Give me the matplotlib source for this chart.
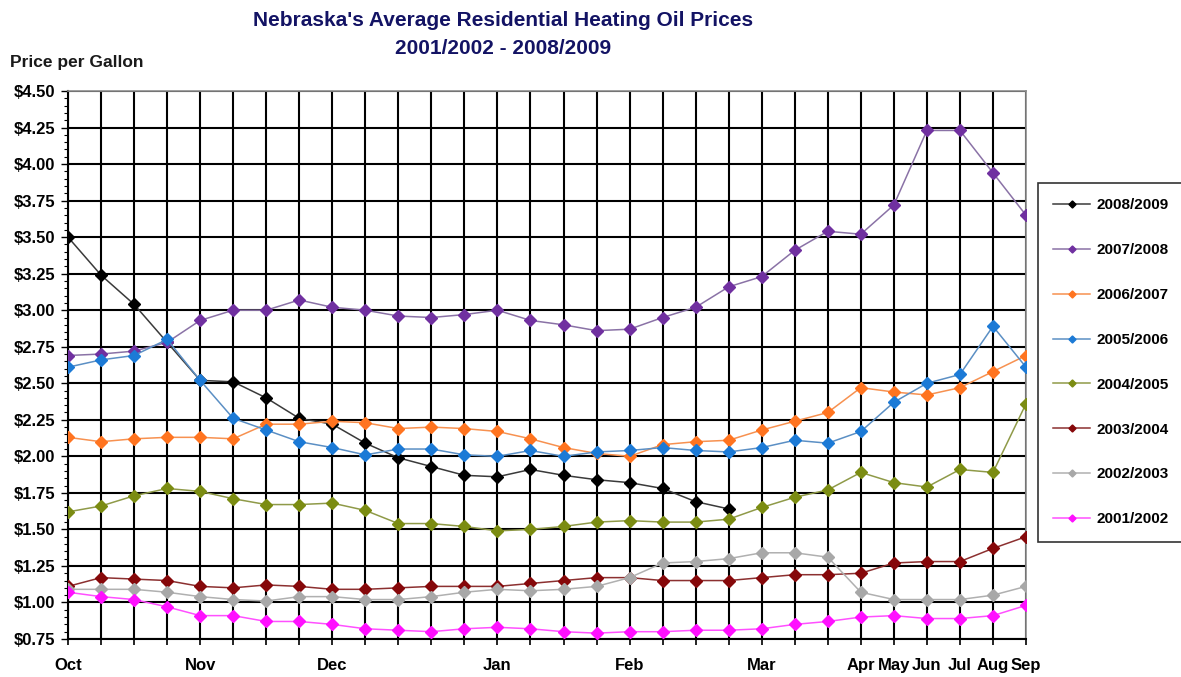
import numpy as np
import matplotlib
matplotlib.use("Agg")
import matplotlib.pyplot as plt
from matplotlib.ticker import MultipleLocator, FuncFormatter

plt.rcParams['font.family'] = ['Liberation Sans', 'DejaVu Sans']

# week / month slots along the heating season (30 report dates)
n_points = 30
month_pos = [0, 4, 8, 13, 17, 21, 24, 25, 26, 27, 28, 29]
month_labels = ["Oct", "Nov", "Dec", "Jan", "Feb", "Mar",
                "Apr", "May", "Jun", "Jul", "Aug", "Sep"]

p2008_09 = [3.50, 3.24, 3.04, 2.78, 2.52, 2.51, 2.40, 2.26, 2.22, 2.09, 1.99,
            1.93, 1.87, 1.86, 1.91, 1.87, 1.84, 1.82, 1.78, 1.69, 1.64]
p2007_08 = [2.69, 2.70, 2.72, 2.78, 2.93, 3.00, 3.00, 3.07, 3.02, 3.00, 2.96,
            2.95, 2.97, 3.00, 2.93, 2.90, 2.86, 2.87, 2.95, 3.02, 3.16,
            3.23, 3.41, 3.54, 3.52, 3.72, 4.23, 4.23, 3.94, 3.65]
p2006_07 = [2.13, 2.10, 2.12, 2.13, 2.13, 2.12, 2.22, 2.22, 2.24, 2.23, 2.19,
            2.20, 2.19, 2.17, 2.12, 2.06, 2.02, 2.00, 2.08, 2.10, 2.11,
            2.18, 2.24, 2.30, 2.47, 2.44, 2.42, 2.47, 2.58, 2.69]
p2005_06 = [2.61, 2.66, 2.69, 2.80, 2.52, 2.26, 2.18, 2.10, 2.06, 2.01, 2.05,
            2.05, 2.01, 2.00, 2.04, 2.00, 2.03, 2.04, 2.06, 2.04, 2.03,
            2.06, 2.11, 2.09, 2.17, 2.37, 2.50, 2.56, 2.89, 2.61]
p2004_05 = [1.62, 1.66, 1.73, 1.78, 1.76, 1.71, 1.67, 1.67, 1.68, 1.63, 1.54,
            1.54, 1.52, 1.49, 1.50, 1.52, 1.55, 1.56, 1.55, 1.55, 1.57,
            1.65, 1.72, 1.77, 1.89, 1.82, 1.79, 1.91, 1.89, 2.36]
p2003_04 = [1.11, 1.17, 1.16, 1.15, 1.11, 1.10, 1.12, 1.11, 1.09, 1.09, 1.10,
            1.11, 1.11, 1.11, 1.13, 1.15, 1.17, 1.17, 1.15, 1.15, 1.15,
            1.17, 1.19, 1.19, 1.20, 1.27, 1.28, 1.28, 1.37, 1.45]
p2002_03 = [1.09, 1.09, 1.09, 1.07, 1.04, 1.02, 1.01, 1.04, 1.04, 1.02, 1.02,
            1.04, 1.07, 1.09, 1.08, 1.09, 1.11, 1.17, 1.27, 1.28, 1.30,
            1.34, 1.34, 1.31, 1.07, 1.02, 1.02, 1.02, 1.05, 1.11]
p2001_02 = [1.07, 1.04, 1.02, 0.97, 0.91, 0.91, 0.87, 0.87, 0.85, 0.82, 0.81,
            0.80, 0.82, 0.83, 0.82, 0.80, 0.79, 0.80, 0.80, 0.81, 0.81,
            0.82, 0.85, 0.87, 0.90, 0.91, 0.89, 0.89, 0.91, 0.98]

series = [
    ("2008/2009", p2008_09, "#000000", "#3a3a3a"),
    ("2007/2008", p2007_08, "#7030a0", "#8a72a6"),
    ("2006/2007", p2006_07, "#ff7420", "#f79150"),
    ("2005/2006", p2005_06, "#1c7ad6", "#5b8fc4"),
    ("2004/2005", p2004_05, "#7b8c12", "#8f9a48"),
    ("2003/2004", p2003_04, "#86080a", "#8c3030"),
    ("2002/2003", p2002_03, "#a8a8a8", "#b0b0b0"),
    ("2001/2002", p2001_02, "#ff10ff", "#ff50ff"),
]

fig = plt.figure(figsize=(11.81, 6.77), dpi=100)
ax = fig.add_axes([68 / 1181, 38 / 677, 958 / 1181, 548 / 677])

for label, vals, mcol, lcol in series:
    x = np.arange(len(vals))
    ax.plot(x, vals, color=lcol, lw=1.1, marker="D", markersize=6.5,
            markerfacecolor=mcol, markeredgecolor=mcol, label=label, zorder=3)

ax.set_xlim(0, n_points - 1)
ax.set_ylim(0.75, 4.5)
ax.yaxis.set_major_locator(MultipleLocator(0.25))
ax.yaxis.set_minor_locator(MultipleLocator(0.05))
ax.yaxis.set_major_formatter(FuncFormatter(lambda v, p: "${:.2f}".format(v)))

xlabels = [""] * n_points
for pos, name in zip(month_pos, month_labels):
    xlabels[pos] = name
ax.set_xticks(np.arange(n_points))
ax.set_xticklabels(xlabels)

ax.grid(True, which="major", color="black", lw=1.5, zorder=1)
ax.tick_params(axis="y", which="major", length=5, width=1, pad=4,
               labelsize=12, direction="out")
ax.tick_params(axis="y", which="minor", length=3, width=0.8, direction="out")
ax.tick_params(axis="x", which="major", length=4, width=1.2, pad=10,
               labelsize=12, direction="out")
for t in ax.get_yticklabels() + ax.get_xticklabels():
    t.set_fontweight("bold")

for s in ["left", "bottom"]:
    ax.spines[s].set_color("black")
    ax.spines[s].set_linewidth(1.5)
for s in ["top", "right"]:
    ax.spines[s].set_color("#8c8c8c")
    ax.spines[s].set_linewidth(1.2)

fig.text(503 / 1181, 1 - 21 / 677,
         "Nebraska's Average Residential Heating Oil Prices",
         ha="center", va="center", fontsize=15, fontweight="bold",
         color="#131364", family=["Liberation Sans Narrow", "Liberation Sans"])
fig.text(503 / 1181, 1 - 48 / 677, "2001/2002 - 2008/2009",
         ha="center", va="center", fontsize=15, fontweight="bold",
         color="#131364", family=["Liberation Sans Narrow", "Liberation Sans"])
fig.text(10 / 1181, 1 - 63 / 677, "Price per Gallon", ha="left", va="center",
         fontsize=12.5, fontweight="bold", color="#1a1a1a")

handles, labels = ax.get_legend_handles_labels()
leg = ax.legend(handles, labels, loc="upper left",
                bbox_to_anchor=(1038 / 1181, 1 - 183 / 677),
                bbox_transform=fig.transFigure, frameon=True, fancybox=False,
                edgecolor="black", fontsize=11, labelspacing=2.02,
                handlelength=2.4, handletextpad=0.4, borderpad=1.0,
                borderaxespad=0, markerscale=0.55)
leg.get_frame().set_linewidth(1.2)
for t in leg.get_texts():
    t.set_fontweight("bold")

fig.savefig("out.png", dpi=100)
